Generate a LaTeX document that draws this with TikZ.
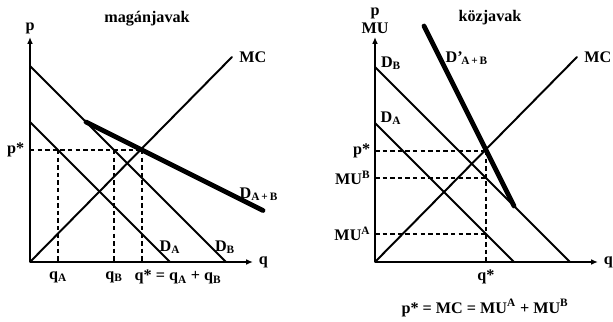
\documentclass[tikz,border=0pt]{standalone}
\usepackage{fontspec}
\setmainfont{Liberation Serif}
\usepackage{tikz}
\usetikzlibrary{arrows.meta, calc, positioning}

\begin{document}
\begin{tikzpicture}[
          x=0.025cm, y=0.025cm,
          >={Latex[length=1.7mm, width=1.4mm]},
          axis/.style={line width=1pt, ->},
          curve/.style={line width=1.4pt, line cap=round},
          sumcurve/.style={line width=3.4pt, line cap=round},
          guide/.style={line width=0.75pt, dash pattern=on 3.2pt off 2.2pt},
          lab/.style={font=\fontsize{11.5}{13}\selectfont\bfseries, inner sep=1pt},
        ]
        \useasboundingbox (-30,-60) rectangle (583,262);

        % axes of one panel, #1 = y label
        \newcommand{\axespair}[1]{%
          \coordinate (O) at (0,0);
          \draw[axis] (O) -- (0,225) coordinate (Ytop);
          \draw[axis] (O) -- (223,0) coordinate (Xend);
          \node[lab, anchor=south, align=center] (ylab) at ([yshift=1pt]Ytop) {#1};
          \node[lab, right=3pt of Xend] (xlab) {q};
        }

        % -----------------------
        % private goods
        % -----------------------
        \begin{scope}
          \axespair{p}
          \node[lab] (title) at (117,243) {magánjavak};

          % supply and the two individual demands
          \coordinate (MCtop) at (202,205);
          \coordinate (DAtop) at (0,140);
          \coordinate (DAend) at (140,0);
          \coordinate (DBtop) at (0,196);
          \coordinate (DBend) at (196,0);
          \draw[curve] (O) -- (MCtop);
          \draw[curve] (DAtop) -- (DAend);
          \draw[curve] (DBtop) -- (DBend);

          % horizontal sum (kinks at p = 140)
          \coordinate (Skink) at (56,140);
          \coordinate (Send)  at (233,51.5);
          \draw[sumcurve] (Skink) -- (Send);

          % equilibrium guides
          \coordinate (Pstar) at (0,112);
          \coordinate (Eq)    at (112,112);
          \draw[guide] (Pstar) -- (Eq);
          \draw[guide] (28,112) -- (28,0);
          \draw[guide] (84,112) -- (84,0);
          \draw[guide] (Eq) -- (112,0);

          \node[lab, left=3pt of Pstar] (pstar) {p*};
          \node[lab] (qA) at (28,-15) {q\textsubscript{A}};
          \node[lab] (qB) at (84,-15) {q\textsubscript{B}};
          \node[lab, anchor=west] (qstar) at (103,-15) {q* = q\textsubscript{A} + q\textsubscript{B}};
          \node[lab, right=4pt of MCtop] (mc) {MC};
          \node[lab] (dA) at (140,15) {D\textsubscript{A}};
          \node[lab] (dB) at (195,15) {D\textsubscript{B}};
          \node[lab, anchor=west] (dAB) at (208,68) {D\textsubscript{A\,+\,B}};
        \end{scope}

        % -----------------------
        % public goods
        % -----------------------
        \begin{scope}[shift={(345,0)}]
          \axespair{p\\[0pt]MU}
          \node[lab] (title2) at (115,244) {közjavak};

          \coordinate (MCtop2) at (202,205);
          \coordinate (DAtop2) at (0,139);
          \coordinate (DAend2) at (139,0);
          \coordinate (DBtop2) at (0,195);
          \coordinate (DBend2) at (195,0);
          \draw[curve] (O) -- (MCtop2);
          \draw[curve] (DAtop2) -- (DAend2);
          \draw[curve] (DBtop2) -- (DBend2);

          % vertical sum, stops where D_A reaches the axis
          \coordinate (Vtop) at (49,236);
          \coordinate (Vend) at (139,56);
          \draw[sumcurve] (Vtop) -- (Vend);

          % equilibrium guides
          \coordinate (Eq2) at (111,111);
          \draw[guide] (0,111) -- (Eq2);
          \draw[guide] (0,84) -- (111,84);
          \draw[guide] (0,28) -- (111,28);
          \draw[guide] (Eq2) -- (111,0);

          \node[lab, anchor=east] (pstar2) at (-3,111) {p*};
          \node[lab, anchor=east] (muB) at (-3,84) {MU\textsuperscript{B}};
          \node[lab, anchor=east] (muA) at (-3,28) {MU\textsuperscript{A}};
          \node[lab] (qstar2) at (111,-15) {q*};
          \node[lab, right=4pt of MCtop2] (mc2) {MC};
          \node[lab] (dB2) at (16,199) {D\textsubscript{B}};
          \node[lab] (dA2) at (16,144) {D\textsubscript{A}};
          \node[lab, anchor=west] (dAB2) at (69,204) {D\textquoteright\kern-1pt\textsubscript{A\,+\,B}};
          \node[lab] (rule) at (110,-46) {p* = MC = MU\textsuperscript{A} + MU\textsuperscript{B}};
        \end{scope}

\end{tikzpicture}
\end{document}
